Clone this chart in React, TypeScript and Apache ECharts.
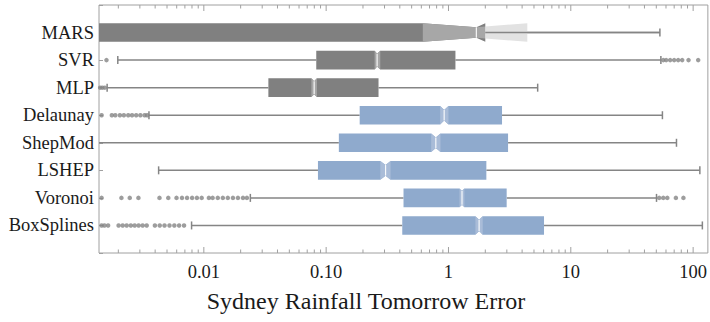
import React, { useEffect, useRef } from 'react';
import * as echarts from 'echarts';

// ---------- data ----------
const CATEGORIES = ['MARS', 'SVR', 'MLP', 'Delaunay', 'ShepMod', 'LSHEP', 'Voronoi', 'BoxSplines'];
const MODEL_GROUP = ['other', 'other', 'other', 'interp', 'interp', 'interp', 'interp', 'interp'];

const Q1 = [0.0008, 0.083, 0.0337, 0.188, 0.127, 0.0857, 0.429, 0.419];
const NOTCH_LO = [0.617, 0.249, 0.0757, 0.855, 0.722, 0.277, 1.23, 1.66];
const MEDIAN = [1.69, 0.261, 0.0798, 0.922, 0.788, 0.306, 1.29, 1.78];
const NOTCH_HI = [4.41, 0.277, 0.084, 1.0, 0.86, 0.336, 1.35, 1.905];
const Q3 = [2.0, 1.14, 0.268, 2.74, 3.07, 2.04, 2.99, 6.04];
const WHISKER_LO = [0.0005, 0.00198, 0.00162, 0.00356, 0.0009, 0.00427, 0.024, 0.00794];
const WHISKER_HI = [53.5, 54.5, 5.36, 56.1, 73.1, 113.5, 50.2, 119];

const OUTLIERS_MARS: number[] = [];
const OUTLIERS_SVR = [0.0016, 57, 60.2, 64.9, 70, 75.5, 81.4, 91.7, 110];
const OUTLIERS_MLP = [0.00142, 0.00148, 0.00155];
const OUTLIERS_DELAUNAY = [0.00146, 0.00177, 0.00189, 0.00206, 0.00222, 0.00241, 0.00259, 0.0028, 0.00303, 0.00328, 0.00344];
const OUTLIERS_SHEPMOD: number[] = [];
const OUTLIERS_LSHEP: number[] = [];
const OUTLIERS_VORONOI = [
  0.00146, 0.00212, 0.00248, 0.00292, 0.00434, 0.00512, 0.00598, 0.00663, 0.00729, 0.00802, 0.00878, 0.0096,
  0.011, 0.0118, 0.013, 0.0143, 0.0157, 0.0173, 0.019, 0.0209, 0.0225,
  52.8, 57, 61.5, 72.3, 83.3,
];
const OUTLIERS_BOXSPLINES = [
  0.00146, 0.00154, 0.00165, 0.00201, 0.00217, 0.00234, 0.00253, 0.00272, 0.00293, 0.00316, 0.00341,
  0.00398, 0.00436, 0.00477, 0.00524, 0.00574, 0.00628, 0.00689,
];
const OUTLIERS = [
  OUTLIERS_MARS, OUTLIERS_SVR, OUTLIERS_MLP, OUTLIERS_DELAUNAY,
  OUTLIERS_SHEPMOD, OUTLIERS_LSHEP, OUTLIERS_VORONOI, OUTLIERS_BOXSPLINES,
];

const X_MIN = 0.00139;
const X_MAX = 132;
const TICK_VALUES = [0.01, 0.1, 1, 10, 100];
const TICK_LABELS = ['0.01', '0.10', '1', '10', '100'];
const X_TITLE = 'Sydney Rainfall Tomorrow Error';

// ---------- styles ----------
const PALETTE: Record<string, { box: string; notch: string; beyond: string }> = {
  other: { box: '#808080', notch: '#a7a7a7', beyond: '#e2e2e2' },
  interp: { box: '#8faacd', notch: '#a9bcd8', beyond: '#dbe4f0' },
};
const FRAME = '#a0a0a0';
const WHISKER = '#858585';
const SERIF = '"Liberation Serif", "Times New Roman", serif';
const HALF_H = 9.3;
const CAP_H = 4;

const BOX_DATA = CATEGORIES.map((_, i) => [
  i, Q1[i], NOTCH_LO[i], MEDIAN[i], NOTCH_HI[i], Q3[i], WHISKER_LO[i], WHISKER_HI[i],
]);

const OUTLIER_DATA: number[][] = [];
OUTLIERS.forEach((arr, i) => arr.forEach((v) => OUTLIER_DATA.push([v, i])));

const TICK_DATA: number[][] = [];
for (let e = -3; e <= 2; e++) {
  for (let m = 1; m <= 9; m++) {
    const v = m * Math.pow(10, e);
    if (v > X_MIN && v < X_MAX) TICK_DATA.push([v, m === 1 ? 1 : 0]);
  }
}

function renderBox(params: any, api: any) {
  const i = api.value(0);
  const X = (k: number) => api.coord([api.value(k), i])[0];
  const yc = api.coord([api.value(3), i])[1];
  const xq1 = X(1), xnlo = X(2), xmed = X(3), xnhi = X(4), xq3 = X(5), xwlo = X(6), xwhi = X(7);
  const top = yc - HALF_H, bot = yc + HALF_H;
  const d = Math.min(4, 0.5 * (xnhi - xnlo));
  const pal = PALETTE[MODEL_GROUP[i]];
  const children: any[] = [];

  // whiskers
  children.push({ type: 'line', shape: { x1: xwlo, y1: yc, x2: xq1, y2: yc }, style: { stroke: WHISKER, lineWidth: 1.5 } });
  children.push({ type: 'line', shape: { x1: xq3, y1: yc, x2: xwhi, y2: yc }, style: { stroke: WHISKER, lineWidth: 1.5 } });
  children.push({ type: 'line', shape: { x1: xwlo, y1: yc - CAP_H, x2: xwlo, y2: yc + CAP_H }, style: { stroke: WHISKER, lineWidth: 1.5 } });
  children.push({ type: 'line', shape: { x1: xwhi, y1: yc - CAP_H, x2: xwhi, y2: yc + CAP_H }, style: { stroke: WHISKER, lineWidth: 1.5 } });

  if (xq3 >= xnhi) {
    children.push({
      type: 'polygon',
      shape: {
        points: [
          [xq1, top], [xnlo, top], [xmed, top + d], [xnhi, top], [xq3, top],
          [xq3, bot], [xnhi, bot], [xmed, bot - d], [xnlo, bot], [xq1, bot],
        ],
      },
      style: { fill: pal.box },
    });
    children.push({
      type: 'polygon',
      shape: { points: [[xnlo, top], [xmed, top + d], [xnhi, top], [xnhi, bot], [xmed, bot - d], [xnlo, bot]] },
      style: { fill: pal.notch },
    });
  } else {
    const dq3 = d * (1 - (xq3 - xmed) / (xnhi - xmed));
    children.push({
      type: 'polygon',
      shape: {
        points: [[xq1, top], [xnlo, top], [xmed, top + d], [xq3, top], [xq3, bot], [xmed, bot - d], [xnlo, bot], [xq1, bot]],
      },
      style: { fill: pal.box },
    });
    children.push({
      type: 'polygon',
      shape: { points: [[xnlo, top], [xmed, top + d], [xq3, top + dq3], [xq3, bot - dq3], [xmed, bot - d], [xnlo, bot]] },
      style: { fill: pal.notch },
    });
    children.push({
      type: 'polygon',
      shape: { points: [[xq3, top + dq3], [xnhi, top], [xnhi, bot], [xq3, bot - dq3]] },
      style: { fill: pal.beyond },
    });
    children.push({ type: 'line', shape: { x1: xq3, y1: yc, x2: xwhi, y2: yc }, style: { stroke: WHISKER, lineWidth: 1.5 } });
  }
  children.push({
    type: 'line',
    shape: { x1: xmed, y1: top + d, x2: xmed, y2: bot - d },
    style: { stroke: 'rgba(255,255,255,0.9)', lineWidth: 1.2 },
  });
  return { type: 'group', children };
}

function renderTick(params: any, api: any) {
  const v = api.value(0);
  const major = api.value(1) === 1;
  const len = major ? 6 : 3.5;
  const t = api.coord([v, -1]);
  const b = api.coord([v, 8]);
  return {
    type: 'group',
    children: [
      { type: 'line', shape: { x1: t[0], y1: t[1], x2: t[0], y2: t[1] + len }, style: { stroke: FRAME, lineWidth: 1 } },
      { type: 'line', shape: { x1: b[0], y1: b[1], x2: b[0], y2: b[1] - len }, style: { stroke: FRAME, lineWidth: 1 } },
    ],
  };
}

export default function App() {
  const ref = useRef<HTMLDivElement>(null);
  useEffect(() => {
    const chart = echarts.init(ref.current!, null, { renderer: 'svg' });
    const option: any = {
      animation: false,
      backgroundColor: '#ffffff',
      grid: {
        left: 99, right: 1, top: 5, bottom: 69,
        show: true, borderColor: FRAME, borderWidth: 1, backgroundColor: 'transparent',
      },
      xAxis: {
        type: 'log', logBase: 10, min: X_MIN, max: X_MAX,
        axisLine: { show: false }, axisTick: { show: false }, splitLine: { show: false },
        axisLabel: {
          margin: 9, fontFamily: SERIF, fontSize: 18.5, color: '#1a1a1a',
          showMinLabel: false, showMaxLabel: false,
          formatter: (v: number) => {
            const k = TICK_VALUES.findIndex((t) => Math.abs(Math.log10(t) - Math.log10(v)) < 1e-6);
            return k >= 0 ? TICK_LABELS[k] : '';
          },
        },
      },
      yAxis: {
        type: 'value', inverse: true, min: -1, max: 8, interval: 1,
        axisLine: { show: false }, splitLine: { show: false },
        axisTick: { show: true, inside: true, length: 4, lineStyle: { color: FRAME } },
        axisLabel: {
          margin: 5, fontFamily: SERIF, fontSize: 18.5, color: '#1a1a1a',
          formatter: (v: number) => (CATEGORIES[v] !== undefined ? CATEGORIES[v] : ''),
        },
      },
      graphic: [
        {
          type: 'text', x: 366, y: 301,
          style: { text: X_TITLE, fontFamily: SERIF, fontSize: 24, fill: '#1a1a1a', textAlign: 'center', textVerticalAlign: 'middle' },
        },
      ],
      series: [
        { type: 'custom', renderItem: renderTick, data: TICK_DATA, encode: { x: 0, y: 1 }, clip: false, silent: true, z: 5 },
        { type: 'custom', renderItem: renderBox, data: BOX_DATA, encode: { x: [1, 2, 3, 4, 5, 6, 7], y: 0 }, clip: true, z: 2 },
        {
          type: 'scatter', data: OUTLIER_DATA, symbol: 'circle', symbolSize: 4.5,
          itemStyle: { color: WHISKER }, clip: true, z: 3,
        },
      ],
    };
    chart.setOption(option);
    return () => chart.dispose();
  }, []);
  return <div ref={ref} style={{ position: 'fixed', left: 0, top: 0, width: 710, height: 322 }} />;
}
